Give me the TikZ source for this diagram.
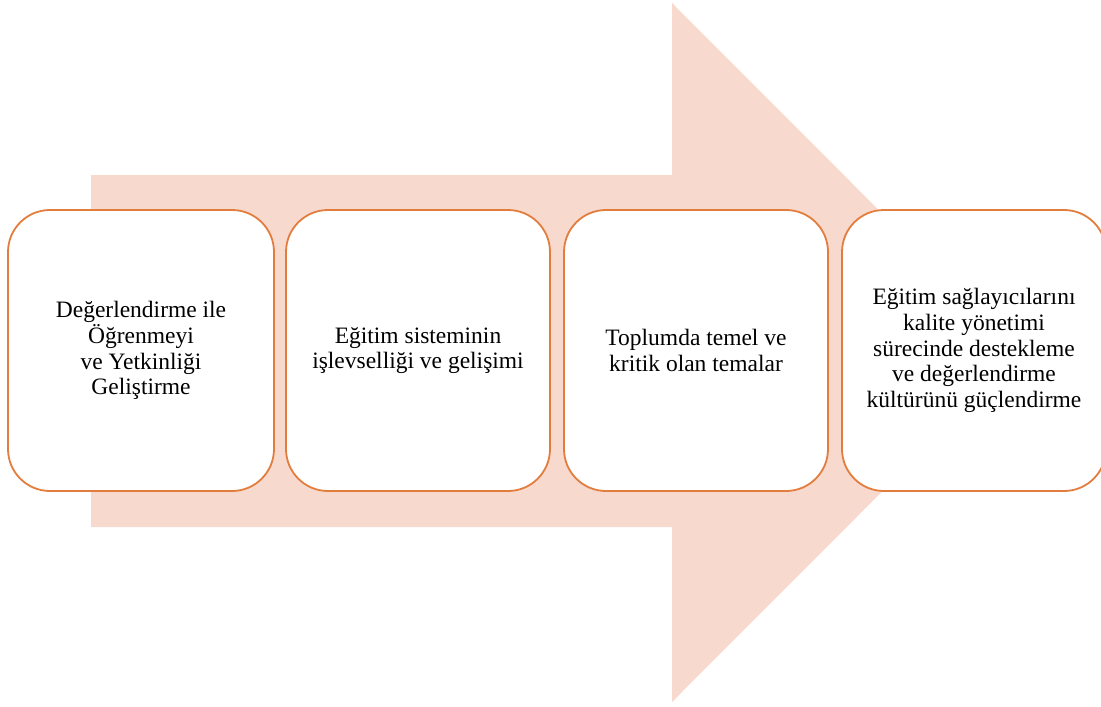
\documentclass[tikz,border=0pt]{standalone}
\usepackage{fontspec}
\setmainfont{Liberation Serif}
\definecolor{arrowfill}{HTML}{F8D9CE}
\definecolor{boxline}{HTML}{E27D3E}
\tikzset{
  stagebox/.style={draw=boxline, line width=1.8pt, fill=white,
    rounded corners=42pt, minimum width=264pt, minimum height=281pt,
    align=center, inner sep=4pt,
    font=\fontsize{23.5}{25.7}\selectfont}
}
\begin{document}
\begin{tikzpicture}[x=1pt, y=-1pt]
  \useasboundingbox (0,0) rectangle (1101,707);
  % background block arrow
  \fill[arrowfill] (91,175) -- (672,175) -- (672,3) -- (1021,352.5)
    -- (672,702) -- (672,527) -- (91,527) -- cycle;
  % four stages
  \node[stagebox, minimum width=266pt] (s1) at (141,350.5)
    {Değerlendirme ile\\Öğrenmeyi\\ve Yetkinliği\\Geliştirme};
  \node[stagebox] (s2) at (418,350.5)
    {Eğitim sisteminin\\işlevselliği ve gelişimi};
  \node[stagebox] (s3) at (696,350.5)
    {Toplumda temel ve\\kritik olan temalar};
  \node[stagebox] (s4) at (974,350.5)
    {Eğitim sağlayıcılarını\\kalite yönetimi\\sürecinde destekleme\\ve değerlendirme\\kültürünü güçlendirme};
\end{tikzpicture}
\end{document}
